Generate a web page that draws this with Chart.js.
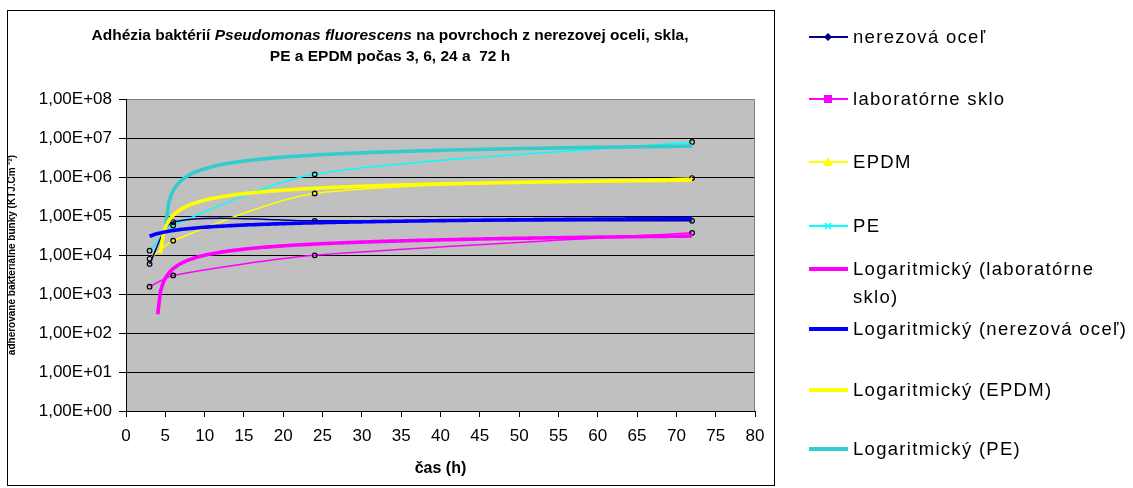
<!DOCTYPE html>
<html>
<head>
<meta charset="utf-8">
<script src="https://cdn.jsdelivr.net/npm/chart.js@4.4.0/dist/chart.umd.min.js"></script>
<style>
  html, body { margin: 0; padding: 0; background: #fff; }
  #wrap { position: relative; width: 1133px; height: 488px; overflow: hidden; }
  #c { position: absolute; left: 0; top: 0; }
  .item { position: absolute; left: 809px; display: flex; align-items: flex-start;
          font-family: 'Liberation Sans', Arial, sans-serif; font-size: 18.5px;
          letter-spacing: 1.3px; line-height: 28px; color: #000; white-space: nowrap; }
  .item svg { flex: none; }
  .item span { margin-left: 4px; }
</style>
</head>
<body>
<div id="wrap">
  <canvas id="c" width="1133" height="488"></canvas>
  <div id="legend"></div>
</div>
<script>
// Adhered cell counts (KTJ/cm2) measured after 3, 6, 24 and 72 h
const hours = [3, 6, 24, 72];
const steel = [5900, 70000, 75000, 75000];
const glass = [1540, 3000, 9800, 37000];
const epdm  = [8000, 23300, 380000, 940000];
const pe    = [12900, 57000, 1170000, 7900000];

const seriesNames = ['nerezová oceľ', 'laboratórne sklo', 'EPDM', 'PE'];
const trendNames = ['Logaritmický (laboratórne sklo)', 'Logaritmický (nerezová oceľ)',
                    'Logaritmický (EPDM)', 'Logaritmický (PE)'];

const yTickValues = [1, 10, 100, 1000, 10000, 100000, 1000000, 10000000, 100000000];
const yTickLabels = ['1,00E+00', '1,00E+01', '1,00E+02', '1,00E+03', '1,00E+04',
                     '1,00E+05', '1,00E+06', '1,00E+07', '1,00E+08'];
const xTickValues = [0, 5, 10, 15, 20, 25, 30, 35, 40, 45, 50, 55, 60, 65, 70, 75, 80];

const FONT = "'Liberation Sans', Arial, sans-serif";

// Least-squares fit y = a*ln(x) + b, sampled over the measured range.
// Non-positive values cannot be shown on the log axis and are left out.
function logTrend(xs, ys, steps) {
  const lx = xs.map(Math.log);
  const mx = lx.reduce((s, v) => s + v, 0) / lx.length;
  const my = ys.reduce((s, v) => s + v, 0) / ys.length;
  let sxx = 0, sxy = 0;
  lx.forEach((v, i) => { sxx += (v - mx) * (v - mx); sxy += (v - mx) * (ys[i] - my); });
  const a = sxy / sxx, b = my - a * mx;
  const x0 = xs[0], x1 = xs[xs.length - 1];
  const pts = [];
  for (let i = 0; i <= steps; i++) {
    const x = x0 + (x1 - x0) * i / steps;
    const y = a * Math.log(x) + b;
    pts.push({ x: x, y: y > 0 ? y : null });
  }
  return pts;
}

const toPoints = ys => hours.map((h, i) => ({ x: h, y: ys[i] }));

function dataSet(label, ys, color) {
  return {
    label: label, data: toPoints(ys), borderColor: color, borderWidth: 1.5,
    tension: 0.25, pointStyle: 'circle', pointRadius: 2.3,
    pointBorderColor: '#000', pointBorderWidth: 1.2, pointBackgroundColor: 'rgba(0,0,0,0)',
    order: 2
  };
}
function trendSet(label, ys, color) {
  return {
    label: label, data: logTrend(hours, ys, 200), borderColor: color, borderWidth: 3.6,
    pointRadius: 0, tension: 0, spanGaps: false, order: 1
  };
}

const COLORS = { steel: '#000080', glass: '#FF00FF', epdm: '#FFFF00', pe: '#00FFFF',
                 steelTrend: '#0000FF', glassTrend: '#FF00FF', epdmTrend: '#FFFF00', peTrend: '#33CCCC' };

const datasets = [
  dataSet(seriesNames[0], steel, COLORS.steel),
  dataSet(seriesNames[1], glass, COLORS.glass),
  dataSet(seriesNames[2], epdm, COLORS.epdm),
  dataSet(seriesNames[3], pe, COLORS.pe),
  trendSet(trendNames[0], glass, COLORS.glassTrend),
  trendSet(trendNames[1], steel, COLORS.steelTrend),
  trendSet(trendNames[2], epdm, COLORS.epdmTrend),
  trendSet(trendNames[3], pe, COLORS.peTrend)
];

// Frame, grey plot background and the two-line title with the italic species name
const framePlugin = {
  id: 'frame',
  beforeDraw(chart) {
    const { ctx, chartArea: ca } = chart;
    ctx.save();
    ctx.fillStyle = '#fff';
    ctx.fillRect(0, 0, chart.width, chart.height);
    ctx.strokeStyle = '#000';
    ctx.lineWidth = 1;
    ctx.strokeRect(7.5, 10.5, 767, 475);
    ctx.fillStyle = '#C0C0C0';
    ctx.fillRect(ca.left, ca.top, ca.right - ca.left, ca.bottom - ca.top);
    ctx.restore();
  },
  beforeDatasetsDraw(chart) {
    const { ctx, chartArea: ca } = chart;
    ctx.save();
    ctx.strokeStyle = '#808080';
    ctx.lineWidth = 1;
    ctx.beginPath();
    ctx.moveTo(Math.round(ca.right) - 0.5, ca.top);
    ctx.lineTo(Math.round(ca.right) - 0.5, ca.bottom);
    ctx.stroke();
    ctx.restore();
  },
  afterDraw(chart) {
    const ctx = chart.ctx;
    const cx = 390;
    const size = 15.5;
    const lines = [
      { y: 36, parts: [['Adhézia baktérií ', false], ['Pseudomonas fluorescens', true],
                       [' na povrchoch z nerezovej oceli, skla,', false]] },
      { y: 57, parts: [['PE a EPDM počas 3, 6, 24 a  72 h', false]] }
    ];
    ctx.save();
    ctx.fillStyle = '#000';
    ctx.textBaseline = 'middle';
    ctx.textAlign = 'left';
    lines.forEach(line => {
      let total = 0;
      const widths = line.parts.map(([t, it]) => {
        ctx.font = (it ? 'italic ' : '') + 'bold ' + size + 'px ' + FONT;
        const w = ctx.measureText(t).width;
        total += w;
        return w;
      });
      let x = cx - total / 2;
      line.parts.forEach(([t, it], i) => {
        ctx.font = (it ? 'italic ' : '') + 'bold ' + size + 'px ' + FONT;
        ctx.fillText(t, x, line.y);
        x += widths[i];
      });
    });
    ctx.restore();
  }
};

new Chart(document.getElementById('c'), {
  type: 'line',
  data: { datasets: datasets },
  options: {
    responsive: false,
    animation: false,
    devicePixelRatio: 1,
    layout: { padding: { left: 0, top: 99, right: 378, bottom: 0 } },
    plugins: { legend: { display: false }, tooltip: { enabled: false }, title: { display: false } },
    scales: {
      x: {
        type: 'linear', min: 0, max: 80,
        afterFit(s) { s.height = 77; },
        afterBuildTicks(s) { s.ticks = xTickValues.map(v => ({ value: v })); },
        ticks: { autoSkip: false, maxRotation: 0, padding: 9, color: '#000',
                 font: { family: FONT, size: 17 } },
        grid: { drawOnChartArea: false, drawTicks: true, tickLength: 6, color: '#000', tickColor: '#000' },
        border: { display: true, color: '#000', width: 1 },
        title: { display: true, text: 'čas (h)', color: '#000',
                 font: { family: FONT, size: 16, weight: 'bold' }, padding: { top: 0, bottom: 10 } }
      },
      y: {
        type: 'logarithmic', min: 1, max: 100000000,
        afterFit(s) { s.width = 126; },
        afterBuildTicks(s) { s.ticks = yTickValues.map(v => ({ value: v })); },
        ticks: { autoSkip: false, padding: 7, color: '#000', font: { family: FONT, size: 17 },
                 callback: (v, i) => yTickLabels[i] },
        grid: { drawTicks: true, tickLength: 7, tickColor: '#000',
                color: c => (c.tick && c.tick.value === 100000000) ? '#808080' : '#000' },
        border: { display: true, color: '#000', width: 1 },
        title: { display: true, text: 'adherované bakteriálne bunky (KTJ.Cm ⁻²)', color: '#000',
                 font: { family: FONT, size: 10, weight: 'bold' }, padding: { top: 6, bottom: 0 } }
      }
    }
  },
  plugins: [framePlugin]
});

// Legend drawn beside the framed chart
const legendEntries = [
  { name: seriesNames[0], color: COLORS.steel, width: 2, marker: 'diamond', cy: 37 },
  { name: seriesNames[1], color: COLORS.glass, width: 2, marker: 'square', cy: 99 },
  { name: seriesNames[2], color: COLORS.epdm, width: 2, marker: 'triangle', cy: 162 },
  { name: seriesNames[3], color: COLORS.pe, width: 2, marker: 'cross', cy: 226 },
  { name: 'Logaritmický (laboratórne\nsklo)', color: COLORS.glassTrend, width: 4, marker: null, cy: 269 },
  { name: trendNames[1], color: COLORS.steelTrend, width: 4, marker: null, cy: 329 },
  { name: trendNames[2], color: COLORS.epdmTrend, width: 4, marker: null, cy: 390 },
  { name: trendNames[3], color: COLORS.peTrend, width: 4, marker: null, cy: 449 }
];

function markerSvg(kind, color) {
  const c = 19, m = 14;
  switch (kind) {
    case 'diamond': return `<polygon points="${c},${m - 4} ${c + 4},${m} ${c},${m + 4} ${c - 4},${m}" fill="${color}"/>`;
    case 'square': return `<rect x="${c - 4}" y="${m - 4}" width="8" height="8" fill="${color}"/>`;
    case 'triangle': return `<polygon points="${c},${m - 5} ${c + 5},${m + 4} ${c - 5},${m + 4}" fill="${color}"/>`;
    case 'cross': return `<path d="M${c - 3},${m - 3}L${c + 3},${m + 3}M${c + 3},${m - 3}L${c - 3},${m + 3}" stroke="${color}" stroke-width="1.5"/>`;
    default: return '';
  }
}

const legendEl = document.getElementById('legend');
legendEntries.forEach(e => {
  const div = document.createElement('div');
  div.className = 'item';
  div.style.top = (e.cy - 14) + 'px';
  const svg = `<svg width="40" height="28" viewBox="0 0 40 28">` +
    `<line x1="0" y1="14" x2="39" y2="14" stroke="${e.color}" stroke-width="${e.width}"/>` +
    markerSvg(e.marker, e.color) + `</svg>`;
  const span = document.createElement('span');
  span.innerText = e.name;
  div.innerHTML = svg;
  div.appendChild(span);
  legendEl.appendChild(div);
});
</script>
</body>
</html>
